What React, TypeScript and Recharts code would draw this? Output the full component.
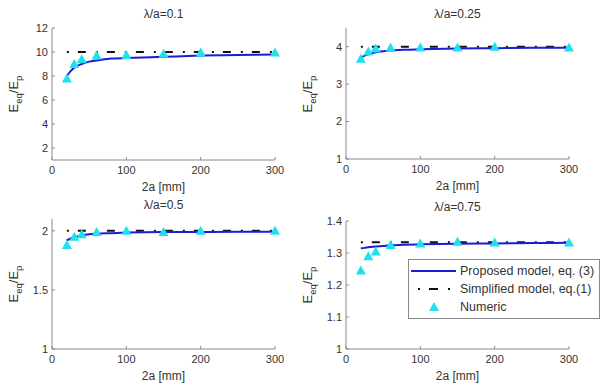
import React from 'react';
import { ComposedChart, Line, Scatter, XAxis, YAxis } from 'recharts';

// 2a [mm] positions
const xNumeric = [20, 30, 40, 60, 100, 150, 200, 300];
const xModel = [20, 25, 30, 40, 50, 60, 80, 100, 150, 200, 250, 300];
const xSimple = [20, 300];

// lambda/a = 0.1
const numeric01 = [7.8, 9.0, 9.4, 9.7, 9.75, 9.85, 9.95, 9.95];
const model01 = [8.0, 8.4, 8.7, 9.0, 9.2, 9.3, 9.45, 9.5, 9.6, 9.7, 9.75, 9.8];
const simple01 = [10, 10];

// lambda/a = 0.25
const numeric025 = [3.68, 3.87, 3.95, 3.97, 3.98, 3.98, 4.0, 3.98];
const model025 = [3.7, 3.76, 3.8, 3.85, 3.88, 3.9, 3.92, 3.93, 3.95, 3.96, 3.97, 3.97];
const simple025 = [4, 4];

// lambda/a = 0.5
const numeric05 = [1.88, 1.95, 1.97, 1.99, 2.0, 1.99, 2.0, 2.0];
const model05 = [1.92, 1.935, 1.945, 1.96, 1.97, 1.975, 1.98, 1.985, 1.99, 1.99, 1.992, 1.993];
const simple05 = [2, 2];

// lambda/a = 0.75
const numeric075 = [1.245, 1.29, 1.305, 1.325, 1.33, 1.335, 1.333, 1.333];
const model075 = [1.315, 1.316, 1.318, 1.32, 1.322, 1.324, 1.326, 1.327, 1.329, 1.33, 1.331, 1.332];
const simple075 = [1.3333, 1.3333];

const xTicks = [0, 100, 200, 300];
const legendLabels = ['Proposed model, eq. (3)', 'Simplified model, eq.(1)', 'Numeric'];

const BLUE = '#1c1cd6';
const CYAN = '#1fe0ee';
const AXIS = '#8a8a8a';
const TEXT = '#333333';
const FONT = '"Liberation Sans", Arial, sans-serif';
const DASH = '2 9 8 10';

const toPoints = (xs: number[], ys: number[]) => xs.map((x, i) => ({ x, y: ys[i] }));

const Triangle = (props: any) => {
    const { cx, cy } = props;
    if (cx == null || cy == null) return null;
    return <polygon points={`${cx},${cy - 5} ${cx - 5},${cy + 4} ${cx + 5},${cy + 4}`} fill={CYAN} />;
};

// x tick labels drawn by hand: the built-in ones vanished in the lower row
const XTick = (props: any) => {
    const { x, y, payload } = props;
    return (
        <text x={x} y={y + 15} textAnchor="middle" fontSize={11} fill={TEXT} fontFamily={FONT}>
            {payload.value}
        </text>
    );
};

const LegendBox = () => (
    <div style={{ position: 'absolute', left: 108, top: 64, border: `1px solid ${AXIS}`, background: '#fff', width: 192, height: 60, fontFamily: FONT, fontSize: 12.5, color: TEXT, boxSizing: 'border-box', paddingTop: 2 }}>
        {legendLabels.map((label, i) => (
            <div key={label} style={{ display: 'flex', alignItems: 'center', height: 18, whiteSpace: 'nowrap' }}>
                <svg width={48} height={12} style={{ marginLeft: 1 }}>
                    {i === 0 && <line x1={1} x2={46} y1={6} y2={6} stroke={BLUE} strokeWidth={2} />}
                    {i === 1 && <line x1={8} x2={40} y1={6} y2={6} stroke="#111" strokeWidth={2} strokeDasharray="2 9 9 10" />}
                    {i === 2 && <polygon points="24,1 19,10 29,10" fill={CYAN} />}
                </svg>
                <span style={{ marginLeft: 2 }}>{label}</span>
            </div>
        ))}
    </div>
);

interface PanelProps {
    title: string;
    left: number;
    top: number;
    plot: { l: number; r: number; t: number; b: number };
    domain: [number, number];
    yTicks: number[];
    numeric: number[];
    model: number[];
    simple: number[];
    legend?: boolean;
}

const Panel = ({ title, left, top, plot, domain, yTicks, numeric, model, simple, legend }: PanelProps) => {
    const yW = 30;
    const xH = 20;
    const tickStyle = { fontSize: 11, fill: TEXT, fontFamily: FONT };
    const labelStyle: React.CSSProperties = {
        position: 'absolute', left: 0, width: 300, textAlign: 'center', paddingLeft: plot.l - (300 - plot.r),
        boxSizing: 'border-box', fontFamily: FONT, fontSize: 12, color: TEXT,
    };
    return (
        <div style={{ position: 'absolute', left, top, width: 300, height: 195 }}>
            <ComposedChart
                width={300}
                height={195}
                margin={{ top: plot.t, right: 300 - plot.r, bottom: 195 - plot.b - xH, left: plot.l - yW }}
            >
                <XAxis xAxisId={0} dataKey="x" type="number" domain={[0, 300]} ticks={xTicks} height={xH}
                    stroke={AXIS} tickSize={-3} tickMargin={2} tick={<XTick />} interval={0} />
                <XAxis xAxisId="top" orientation="top" type="number" domain={[0, 300]} ticks={xTicks} height={0}
                    stroke={AXIS} tick={false} tickSize={-3} />
                <YAxis yAxisId={0} type="number" domain={domain} ticks={yTicks} width={yW}
                    stroke={AXIS} tickSize={-3} tickMargin={7} tick={tickStyle} interval={0} allowDataOverflow />
                <YAxis yAxisId="right" orientation="right" type="number" domain={domain} ticks={yTicks} width={0}
                    stroke={AXIS} tick={false} tickSize={-3} />
                <Line data={toPoints(xSimple, simple)} dataKey="y" stroke="#111" strokeWidth={2}
                    strokeDasharray={DASH} dot={false} isAnimationActive={false} />
                <Line data={toPoints(xModel, model)} dataKey="y" type="monotone" stroke={BLUE} strokeWidth={2}
                    dot={false} isAnimationActive={false} />
                <Scatter data={toPoints(xNumeric, numeric)} dataKey="y" shape={Triangle} isAnimationActive={false} />
            </ComposedChart>
            <div style={{ ...labelStyle, top: plot.t - 21 }}>{title}</div>
            <div style={{ ...labelStyle, top: plot.b + 20 }}>2a [mm]</div>
            <div style={{ position: 'absolute', left: plot.l - 37, top: (plot.t + plot.b) / 2, fontFamily: FONT, fontSize: 13, color: TEXT, whiteSpace: 'nowrap', transform: 'translate(-50%, -50%) rotate(-90deg)' }}>
                E<sub style={{ fontSize: 9.5 }}>eq</sub>/E<sub style={{ fontSize: 9.5 }}>p</sub>
            </div>
            {legend && <LegendBox />}
        </div>
    );
};

export default function App() {
    return (
        <div style={{ position: 'fixed', left: 0, top: 0, width: 600, height: 390, background: '#fff', overflow: 'hidden' }}>
            <Panel title="λ/a=0.1" left={0} top={0} plot={{ l: 52, r: 275, t: 28, b: 160 }}
                domain={[1, 12]} yTicks={[2, 4, 6, 8, 10, 12]} numeric={numeric01} model={model01} simple={simple01} />
            <Panel title="λ/a=0.25" left={300} top={0} plot={{ l: 46, r: 269, t: 28, b: 159 }}
                domain={[1, 4.5]} yTicks={[1, 2, 3, 4]} numeric={numeric025} model={model025} simple={simple025} />
            <Panel title="λ/a=0.5" left={0} top={195} plot={{ l: 52, r: 275, t: 24, b: 154 }}
                domain={[1, 2.1]} yTicks={[1, 1.5, 2]} numeric={numeric05} model={model05} simple={simple05} />
            <Panel title="λ/a=0.75" left={300} top={195} plot={{ l: 46, r: 269, t: 26, b: 154 }}
                domain={[1, 1.4]} yTicks={[1, 1.1, 1.2, 1.3, 1.4]} numeric={numeric075} model={model075} simple={simple075} legend />
        </div>
    );
}
